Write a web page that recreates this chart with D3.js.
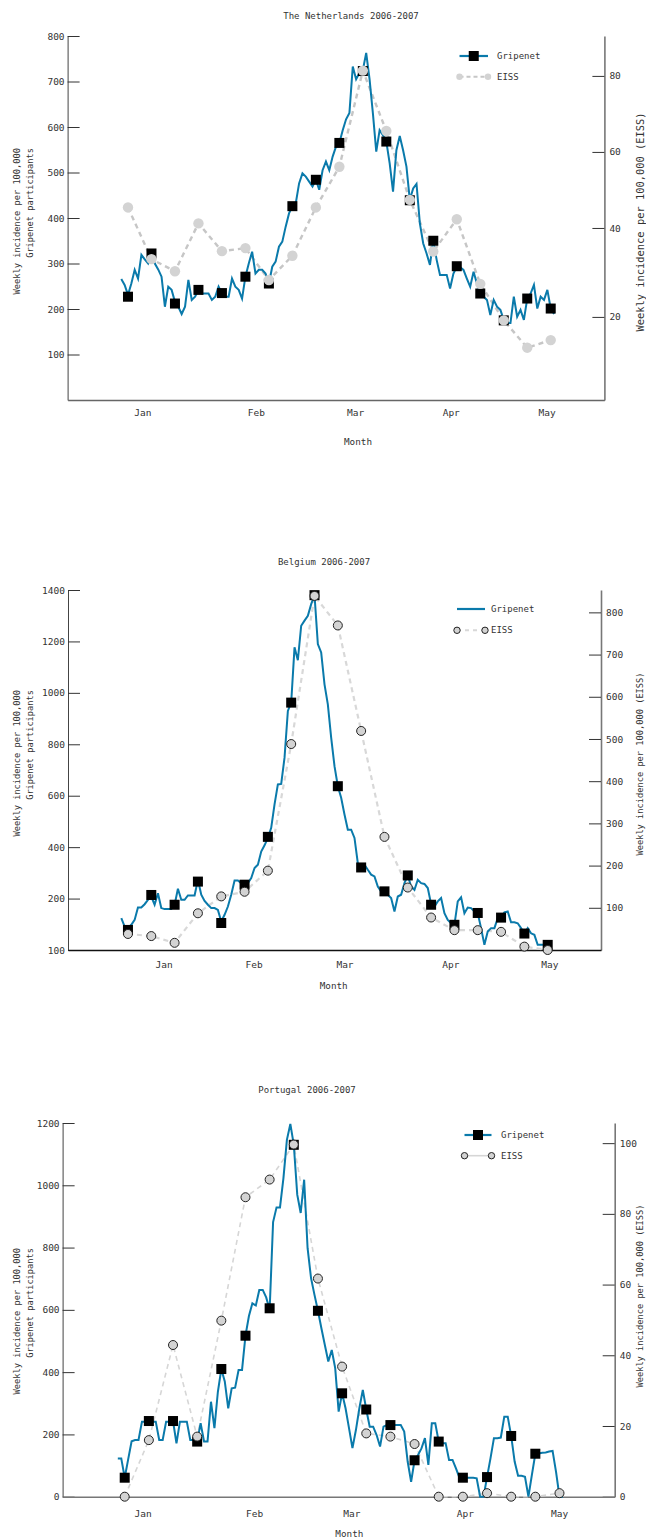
<!DOCTYPE html>
<html>
<head>
<meta charset="utf-8">
<script src="https://cdn.jsdelivr.net/npm/d3@7"></script>
<style>
  body { margin: 0; background: #fff; }
  svg text { font-family: "DejaVu Sans Mono", monospace; fill: #333; }
</style>
</head>
<body>
<svg id="chart" width="646" height="1538"></svg>
<script>
// ---------------- data ----------------
// daily Gripenet values start 2 days before the first weekly point (day 0)
const dailyStart = -2;
const monthLabels = ["Jan", "Feb", "Mar", "Apr", "May"];

// The Netherlands
const nlGripenetDaily = [266, 253, 231, 256, 286, 267, 319, 309, 300, 321, 300, 287, 271, 205, 249, 242, 216, 205, 189, 205,
  264, 220, 227, 242, 234, 234, 234, 220, 227, 249, 234, 227, 227, 267, 249, 242, 223, 271, 300, 326,
  278, 286, 286, 278, 256, 293, 304, 337, 348, 381, 410, 426, 432, 476, 498, 491, 480, 469, 484, 462,
  505, 524, 505, 535, 557, 565, 593, 617, 631, 733, 705, 719, 725, 763, 705, 630, 546, 593, 582, 568,
  520, 458, 549, 580, 549, 513, 440, 465, 475, 388, 344, 322, 297, 350, 308, 275, 275, 275, 245, 278,
  293, 292, 286, 267, 249, 282, 256, 234, 227, 220, 187, 220, 205, 198, 176, 169, 169, 227, 183, 198,
  176, 223, 234, 253, 201, 227, 220, 242, 201, 189];
const nlGripenetWeekly = [227, 322, 212, 242, 235, 271, 256, 426, 484, 565, 723, 568, 439, 350, 294, 234, 175, 223, 201];
const nlEissWeekly = [45.4, 31.8, 28.6, 41.2, 33.9, 34.7, 26.3, 32.7, 45.4, 56.1, 81.4, 65.5, 47.4, 33.8, 42.3, 25.3, 15.7, 8.5, 10.5];
const nlMonthDays = [4.3, 38.1, 67.7, 96.2, 124.8];
const nlLeftTicks = [100, 200, 300, 400, 500, 600, 700, 800];
const nlLeftTickLabels = ["100", "200", "300", "400", "500", "600", "700", "800"];
const nlRightTicks = [16.6, 40, 60, 80];
const nlRightTickLabels = ["20", "40", "60", "80"];

// Belgium
const beGripenetDaily = [124, 91, 85, 98, 117, 165, 165, 178, 195, 208, 176, 221, 163, 159, 159, 159, 176, 238, 195, 195,
  212, 212, 212, 273, 215, 191, 176, 163, 163, 156, 111, 137, 169, 215, 270, 270, 260, 250, 260, 280,
  319, 332, 383, 407, 436, 475, 566, 644, 646, 748, 930, 962, 1177, 1127, 1261, 1281, 1300, 1345, 1380, 1190,
  1157, 1033, 955, 826, 715, 637, 592, 527, 468, 468, 436, 338, 321, 332, 312, 293, 286, 247, 228, 221,
  215, 202, 150, 208, 215, 260, 290, 247, 234, 273, 260, 257, 241, 178, 169, 189, 202, 143, 117, 104,
  98, 189, 205, 143, 165, 163, 150, 143, 85, 20, 72, 85, 85, 124, 126, 146, 150, 108, 108, 104,
  85, 64, 85, 65, 59, 20, 20, 20, 20];
const beGripenetWeekly = [78, 214, 176, 266, 105, 254, 440, 962, 1380, 637, 321, 228, 290, 176, 98, 144, 126, 64, 20];
const beEissWeekly = [38, 33, 17, 87, 127, 138, 188, 488, 839, 769, 519, 268, 148, 77, 47, 47, 43, 8, 0];
const beMonthDays = [10.7, 37.7, 65.0, 96.8, 126.5];
const beLeftTicks = [0, 200, 400, 600, 800, 1000, 1200, 1400];
const beLeftTickLabels = ["100", "200", "400", "600", "800", "1000", "1200", "1400"];
const beRightTicks = [100, 200, 300, 400, 500, 600, 700, 800];
const beRightTickLabels = ["100", "200", "300", "400", "500", "600", "700", "800"];

// Portugal
const ptGripenetDaily = [123, 123, 61, 120, 178, 182, 182, 241, 241, 243, 241, 241, 182, 182, 241, 241, 243, 171, 241, 241,
  241, 182, 182, 177, 236, 177, 177, 305, 220, 337, 410, 370, 284, 348, 350, 407, 407, 517, 580, 621,
  614, 664, 664, 640, 600, 882, 929, 929, 1023, 1146, 1197, 1130, 970, 911, 1018, 798, 702, 648, 597, 541,
  487, 434, 471, 413, 273, 332, 284, 220, 156, 214, 284, 343, 280, 225, 225, 198, 161, 225, 230, 230,
  230, 230, 230, 209, 113, 48, 117, 134, 155, 188, 102, 236, 236, 177, 172, 172, 118, 118, 91, 61,
  61, 61, 61, 61, 59, 0, 0, 63, 123, 188, 188, 190, 257, 257, 195, 113, 67, 67, 64, 0,
  70, 138, 139, 141, 142, 145, 147, 80, 0, 0];
const ptGripenetWeekly = [61, 243, 243, 177, 410, 517, 605, 1130, 597, 332, 280, 230, 117, 177, 61, 63, 195, 138];
const ptEissWeekly = [0, 16, 42.9, 17, 49.8, 84.7, 89.7, 99.6, 61.7, 36.8, 17.9, 17, 14.9, 0, 0, 1, 0, 0, 1];
const ptMonthDays = [5.2, 37.5, 65.7, 98.6, 125.9];
const ptLeftTicks = [0, 200, 400, 600, 800, 1000, 1200];
const ptLeftTickLabels = ["0", "200", "400", "600", "800", "1000", "1200"];
const ptRightTicks = [0, 20, 40, 60, 80, 100];
const ptRightTickLabels = ["0", "20", "40", "60", "80", "100"];

// ---------------- chart ----------------
const blue = "#0a7aab";

class IncidenceChart {
    constructor(_config, _data) {
        this.config = _config;
        this.data = _data;
        this.initVis();
    }

    initVis() {
        let vis = this;
        const c = vis.config;

        vis.g = d3.select('#chart').append('g');

        // plot width spans day -18 .. day 142
        vis.xScale = d3.scaleLinear().domain([-18, 142]).range([c.left, c.right]);
        vis.yLeft = d3.scaleLinear().domain(c.leftDomain).range([c.bottom, c.top]);
        vis.yRight = d3.scaleLinear().domain(c.rightDomain).range([c.bottom, c.top]);

        // axes
        vis.leftAxis = vis.g.append('g')
            .attr('transform', `translate(${c.left},0)`)
            .call(d3.axisLeft(vis.yLeft)
                .tickValues(vis.data.leftTicks)
                .tickFormat((d, i) => vis.data.leftTickLabels[i])
                .tickSize(-12).tickSizeOuter(0).tickPadding(3));

        vis.rightAxis = vis.g.append('g')
            .attr('transform', `translate(${c.right},0)`)
            .call(d3.axisRight(vis.yRight)
                .tickValues(vis.data.rightTicks)
                .tickFormat((d, i) => vis.data.rightTickLabels[i])
                .tickSize(-12).tickSizeOuter(0).tickPadding(5));

        vis.bottomAxis = vis.g.append('g')
            .attr('transform', `translate(0,${c.bottom})`)
            .call(d3.axisBottom(vis.xScale)
                .tickValues(vis.data.monthDays)
                .tickFormat((d, i) => monthLabels[i])
                .tickSize(0).tickSizeOuter(0).tickPadding(c.monthPad));

        [vis.leftAxis, vis.rightAxis, vis.bottomAxis].forEach(a => {
            a.attr('font-family', null).attr('font-size', null);
            a.selectAll('text').style('font-size', '9.5px').attr('fill', '#333');
            a.selectAll('.tick line').attr('stroke', '#333');
        });
        vis.leftAxis.select('.domain').attr('stroke', '#444');
        vis.rightAxis.select('.domain').attr('stroke', '#777').attr('stroke-width', 1.6);
        vis.bottomAxis.select('.domain').attr('stroke', c.bottomColor).attr('stroke-width', 1.6);

        // labels
        vis.g.append('text')
            .attr('x', c.titleX).attr('y', c.top - c.titleGap)
            .attr('text-anchor', 'middle').attr('dy', '0.35em')
            .style('font-size', '9px')
            .text(vis.data.title);

        vis.g.append('text')
            .attr('x', (c.left + c.right) / 2 + c.monthLabelShift).attr('y', c.bottom + c.monthLabelGap)
            .attr('text-anchor', 'middle').attr('dy', '0.35em')
            .style('font-size', '9.3px')
            .text('Month');

        const leftLabel = ["Weekly incidence per 100,000", "Gripenet participants"];
        leftLabel.forEach((t, i) => {
            vis.g.append('text')
                .attr('transform', `translate(${16.8 + i * 12.8},${c.yLabelTop}) rotate(-90)`)
                .attr('text-anchor', 'end').attr('dy', '0.35em')
                .style('font-size', '8.7px')
                .text(t);
        });

        vis.g.append('text')
            .attr('transform', `translate(${c.rightLabelX},${c.rightLabelY}) rotate(-90)`)
            .attr('text-anchor', 'middle').attr('dy', '0.35em')
            .style('font-size', c.rightLabelSize + 'px')
            .text('Weekly incidence per 100,000 (EISS)');

        vis.updateVis();
    }

    updateVis() {
        let vis = this;
        const c = vis.config;
        const d = vis.data;

        const daily = d.gripenetDaily.map((v, i) => ({day: dailyStart + i, value: v}));
        const weekly = d.gripenetWeekly.map((v, i) => ({day: i * 7, value: v}));
        const eiss = d.eissWeekly.map((v, i) => ({day: i * 7, value: v}));

        // EISS dashed line
        vis.g.append('path')
            .datum(eiss)
            .attr('fill', 'none')
            .attr('stroke', c.eissLineColor)
            .attr('stroke-width', c.eissLineWidth)
            .attr('stroke-dasharray', '5,4')
            .attr('d', d3.line().x(p => vis.xScale(p.day)).y(p => vis.yRight(p.value)));

        // Gripenet daily line
        vis.g.append('path')
            .datum(daily)
            .attr('fill', 'none')
            .attr('stroke', blue)
            .attr('stroke-width', 2)
            .attr('stroke-linejoin', 'miter')
            .attr('d', d3.line().x(p => vis.xScale(p.day)).y(p => vis.yLeft(p.value)));

        // weekly squares
        vis.g.selectAll('rect.week')
            .data(weekly)
            .join('rect')
            .attr('class', 'week')
            .attr('x', p => vis.xScale(p.day) - 5)
            .attr('y', p => vis.yLeft(p.value) - 5)
            .attr('width', 10).attr('height', 10)
            .attr('fill', '#000');

        // EISS circles
        vis.g.selectAll('circle.eiss')
            .data(eiss)
            .join('circle')
            .attr('class', 'eiss')
            .attr('cx', p => vis.xScale(p.day))
            .attr('cy', p => vis.yRight(p.value))
            .attr('r', c.circleR)
            .attr('fill', c.circleFill)
            .attr('stroke', c.circleStroke)
            .attr('stroke-width', 1);

        vis.renderLegend();
    }

    renderLegend() {
        let vis = this;
        const c = vis.config;
        const L = c.legend;
        const lg = vis.g.append('g');

        lg.append('line')
            .attr('x1', L.x1).attr('x2', L.x2).attr('y1', L.y1).attr('y2', L.y1)
            .attr('stroke', blue).attr('stroke-width', 2.2);
        if (L.square) {
            lg.append('rect')
                .attr('x', (L.x1 + L.x2) / 2 - 5).attr('y', L.y1 - 5)
                .attr('width', 10).attr('height', 10).attr('fill', '#000');
        }
        lg.append('line')
            .attr('x1', L.x1).attr('x2', L.x2).attr('y1', L.y2).attr('y2', L.y2)
            .attr('stroke', c.eissLineColor).attr('stroke-width', L.eissWidth)
            .attr('stroke-dasharray', L.dash);
        [L.x1, L.x2].forEach(x => {
            lg.append('circle')
                .attr('cx', x).attr('cy', L.y2).attr('r', 3.2)
                .attr('fill', c.circleFill).attr('stroke', c.circleStroke);
        });
        lg.append('text').attr('x', L.tx).attr('y', L.y1).attr('dy', '0.35em')
            .style('font-size', '9px').text('Gripenet');
        lg.append('text').attr('x', L.tx).attr('y', L.y2).attr('dy', '0.35em')
            .style('font-size', '9px').text('EISS');
    }
}

new IncidenceChart({
    left: 67.6, right: 604.4, top: 36, bottom: 400,
    leftDomain: [0, 800], rightDomain: [-5.26, 90.5],
    titleX: 351, titleGap: 20, monthPad: 9, monthLabelGap: 42, monthLabelShift: 22,
    yLabelTop: 148, rightLabelX: 640, rightLabelY: 222, rightLabelSize: 10.4,
    bottomColor: '#666',
    eissLineColor: '#c6c6c6', eissLineWidth: 2.4,
    circleR: 5.2, circleFill: '#d3d3d3', circleStroke: 'none',
    legend: {x1: 459.5, x2: 488, y1: 56, y2: 76.7, tx: 497, square: true, eissWidth: 2, dash: '4,3'}
}, {
    title: "The Netherlands 2006-2007",
    gripenetDaily: nlGripenetDaily, gripenetWeekly: nlGripenetWeekly, eissWeekly: nlEissWeekly,
    monthDays: nlMonthDays,
    leftTicks: nlLeftTicks, leftTickLabels: nlLeftTickLabels,
    rightTicks: nlRightTicks, rightTickLabels: nlRightTickLabels
});

new IncidenceChart({
    left: 68, right: 601, top: 590, bottom: 950,
    leftDomain: [0, 1400], rightDomain: [0, 853],
    titleX: 324, titleGap: 28, monthPad: 11, monthLabelGap: 36, monthLabelShift: -0.8,
    yLabelTop: 690, rightLabelX: 639.5, rightLabelY: 764, rightLabelSize: 8.7,
    bottomColor: '#111',
    eissLineColor: '#d8d8d8', eissLineWidth: 2.2,
    circleR: 4.5, circleFill: '#d3d3d3', circleStroke: '#222',
    legend: {x1: 457, x2: 485, y1: 609, y2: 630.3, tx: 491, square: false, eissWidth: 2, dash: '4,4'}
}, {
    title: "Belgium 2006-2007",
    gripenetDaily: beGripenetDaily, gripenetWeekly: beGripenetWeekly, eissWeekly: beEissWeekly,
    monthDays: beMonthDays,
    leftTicks: beLeftTicks, leftTickLabels: beLeftTickLabels,
    rightTicks: beRightTicks, rightTickLabels: beRightTickLabels
});

new IncidenceChart({
    left: 62.6, right: 614.7, top: 1123, bottom: 1496.7,
    leftDomain: [0, 1200], rightDomain: [0, 105.7],
    titleX: 307, titleGap: 33, monthPad: 14, monthLabelGap: 37, monthLabelShift: 10.7,
    yLabelTop: 1248, rightLabelX: 639.5, rightLabelY: 1296, rightLabelSize: 8.7,
    bottomColor: '#777',
    eissLineColor: '#d6d6d6', eissLineWidth: 1.6,
    circleR: 4.5, circleFill: '#d3d3d3', circleStroke: '#222',
    legend: {x1: 464.5, x2: 491.5, y1: 1135, y2: 1155.7, tx: 501, square: true, eissWidth: 1.6, dash: null}
}, {
    title: "Portugal 2006-2007",
    gripenetDaily: ptGripenetDaily, gripenetWeekly: ptGripenetWeekly, eissWeekly: ptEissWeekly,
    monthDays: ptMonthDays,
    leftTicks: ptLeftTicks, leftTickLabels: ptLeftTickLabels,
    rightTicks: ptRightTicks, rightTickLabels: ptRightTickLabels
});
</script>
</body>
</html>
